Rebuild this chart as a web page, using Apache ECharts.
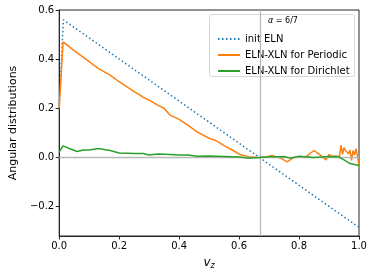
<!DOCTYPE html>
<html><head><meta charset="utf-8">
<script src="https://cdn.jsdelivr.net/npm/echarts@6/dist/echarts.min.js"></script>
<style>html,body{margin:0;padding:0;background:#fff}#c{width:374px;height:275px}</style>
</head><body><div id="c"></div>
<script>
const vzELN = [0, 0.014, 1.0];
const initELN = [0.2, 0.56, -0.285];

const vzPer = [0, 0.013, 0.05, 0.1, 0.13, 0.17, 0.2, 0.25, 0.28, 0.3, 0.33, 0.35, 0.37, 0.4, 0.43, 0.46, 0.5, 0.52, 0.55, 0.58, 0.6, 0.63, 0.667, 0.69, 0.71, 0.73, 0.74, 0.76, 0.78, 0.8, 0.82, 0.85, 0.87, 0.89, 0.9, 0.91, 0.92, 0.935, 0.94, 0.945, 0.95, 0.955, 0.96, 0.965, 0.97, 0.975, 0.98, 0.985, 0.99, 0.995, 1.0];
const periodic = [0.2, 0.47, 0.435, 0.39, 0.362, 0.335, 0.308, 0.268, 0.245, 0.233, 0.212, 0.2, 0.172, 0.155, 0.13, 0.104, 0.078, 0.07, 0.048, 0.028, 0.013, 0.003, 0.0, 0.002, 0.008, 0.0, -0.004, -0.018, -0.002, 0.003, 0.0, 0.028, 0.01, -0.01, 0.012, 0.004, 0.006, 0.004, 0.05, 0.012, 0.04, 0.028, 0.032, 0.015, 0.03, -0.012, 0.028, 0.01, 0.035, 0.005, -0.035];

const vzDir = [0, 0.013, 0.04, 0.06, 0.08, 0.1, 0.13, 0.17, 0.2, 0.25, 0.28, 0.3, 0.33, 0.37, 0.4, 0.43, 0.46, 0.5, 0.55, 0.6, 0.627, 0.667, 0.7, 0.73, 0.75, 0.77, 0.8, 0.85, 0.9, 0.93, 0.95, 0.97, 1.0];
const dirichlet = [0.022, 0.047, 0.033, 0.024, 0.03, 0.03, 0.036, 0.028, 0.018, 0.016, 0.016, 0.01, 0.014, 0.012, 0.01, 0.01, 0.005, 0.006, 0.004, 0.002, -0.003, 0.0, 0.003, 0.003, 0.004, -0.003, 0.005, 0.0, 0.004, 0.003, -0.01, -0.025, -0.033];

const xTicks = [0, 0.2, 0.4, 0.6, 0.8, 1.0];
const yTicks = [-0.2, 0, 0.2, 0.4, 0.6];
const crossX = 2/3;

const zip = (a, b) => a.map((x, i) => [x, b[i]]);
const font = 'DejaVu Sans';
const fmt = v => v.toFixed(1).replace('-', '\u2212');

const chart = echarts.init(document.getElementById('c'), null, {renderer: 'canvas'});
chart.setOption({
  animation: false,
  grid: {left: 52, right: 15, top: 10, bottom: 39, show: true, borderColor: '#262626', borderWidth: 1, backgroundColor: 'transparent'},
  xAxis: {
    type: 'value', min: 0, max: 1, interval: 0.2,
    name: '{v|v}{z|z}', nameLocation: 'middle', nameGap: 19,
    nameTextStyle: {rich: {v: {fontFamily: font, fontStyle: 'italic', fontSize: 12, color: '#000'}, z: {fontFamily: font, fontStyle: 'italic', fontSize: 8, color: '#000', padding: [7, 0, 0, 0]}}},
    axisLine: {onZero: false, lineStyle: {color: '#262626', width: 1}},
    axisTick: {show: true, length: 3.5, lineStyle: {color: '#262626'}},
    axisLabel: {fontFamily: font, fontSize: 10, color: '#000', margin: 5, formatter: v => fmt(v)},
    splitLine: {show: false}
  },
  yAxis: {
    type: 'value', min: -0.32, max: 0.6,
    name: 'Angular distributions', nameLocation: 'middle', nameGap: 37, nameRotate: 90,
    nameTextStyle: {fontFamily: font, fontSize: 11, color: '#000'},
    axisLine: {show: true, onZero: false, lineStyle: {color: '#262626', width: 1}},
    axisTick: {show: true, length: 3.5, lineStyle: {color: '#262626'}, customValues: yTicks},
    axisLabel: {fontFamily: font, fontSize: 10, color: '#000', margin: 5, customValues: yTicks, formatter: v => fmt(v)},
    splitLine: {show: false}
  },
  legend: {
    orient: 'vertical', left: 212, top: 29, itemGap: 6, itemWidth: 22, itemHeight: 10,
    itemStyle: {opacity: 0},
    textStyle: {fontFamily: font, fontSize: 10, color: '#000'},
    data: ['init ELN', 'ELN-XLN for Periodic', 'ELN-XLN for Dirichlet']
  },
  graphic: [
    {type: 'rect', left: 209, top: 14, shape: {width: 145, height: 62, r: 2}, style: {fill: 'rgba(255,255,255,0.8)', stroke: '#d6d6d6', lineWidth: 1}, z: 1},
    {type: 'text', left: 268, top: 17, style: {text: '{a|\u03b1} = 6/7', rich: {a: {fontStyle: 'italic', fontFamily: font, fontSize: 8}}, fontFamily: font, fontSize: 8, fill: '#000'}, z: 2}
  ],
  series: [
    {
      name: 'init ELN', type: 'line', data: zip(vzELN, initELN), symbol: 'none',
      lineStyle: {color: '#1f77b4', width: 1.5, type: [1.5, 2.5]}, itemStyle: {color: '#1f77b4'}, z: 3,
      markLine: {
        silent: true, symbol: 'none', label: {show: false},
        lineStyle: {color: '#b8b8b8', width: 1.3, type: 'solid'},
        data: [{yAxis: 0}, {xAxis: crossX}]
      }
    },
    {
      name: 'ELN-XLN for Periodic', type: 'line', data: zip(vzPer, periodic), symbol: 'none',
      lineStyle: {color: '#ff7f0e', width: 1.5}, itemStyle: {color: '#ff7f0e'}, z: 4
    },
    {
      name: 'ELN-XLN for Dirichlet', type: 'line', data: zip(vzDir, dirichlet), symbol: 'none',
      lineStyle: {color: '#2ca02c', width: 1.5}, itemStyle: {color: '#2ca02c'}, z: 5
    }
  ]
});
</script></body></html>
